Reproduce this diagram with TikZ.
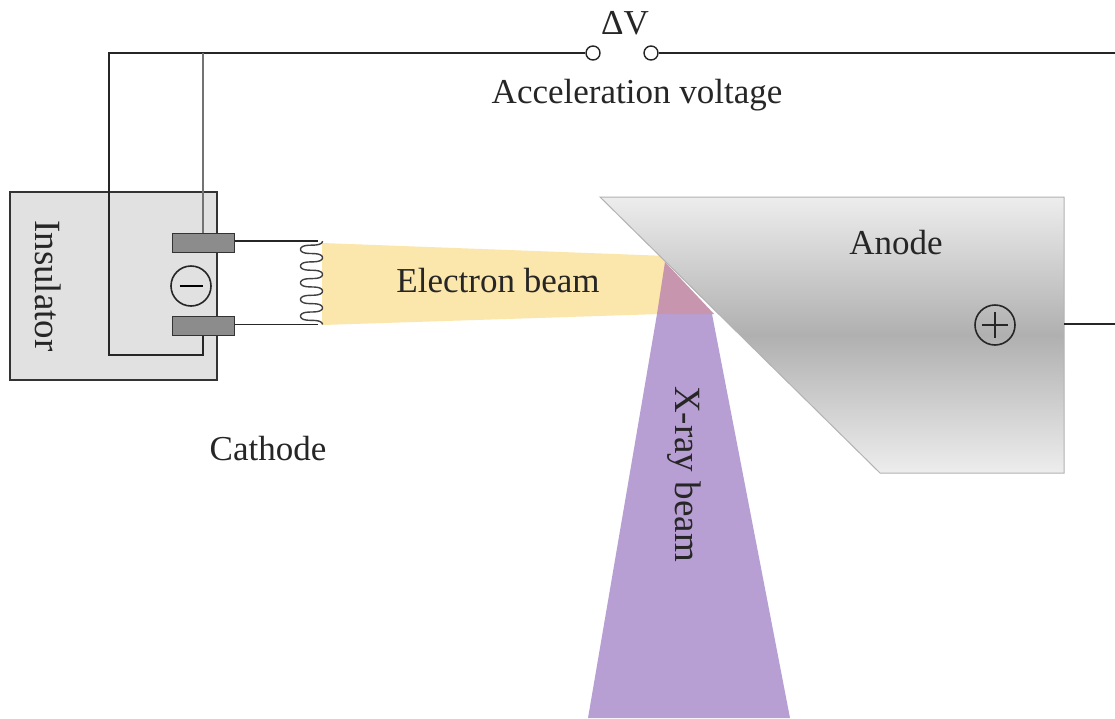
\documentclass[tikz,border=0pt]{standalone}
\usepackage{fontspec}
\setmainfont{Liberation Serif}
\usepackage{xcolor}
\definecolor{beamyellow}{HTML}{FBE6AC}
\definecolor{beampurple}{HTML}{B89FD3}
\definecolor{beamoverlap}{HTML}{C796AE}
\definecolor{insulgray}{HTML}{E1E1E1}
\definecolor{plategray}{HTML}{8C8C8C}

\begin{document}
\begin{tikzpicture}[
x=1pt,y=-1pt,
wire/.style={draw=black!85,line width=1.3pt},
label/.style={font=\fontsize{35}{40}\selectfont,text=black!85,inner sep=0pt},
sidelabel/.style={font=\fontsize{37}{40}\selectfont,text=black!85,inner sep=0pt,rotate=-90},
terminal/.style={circle,draw=black!85,line width=1.4pt,fill=white,minimum size=14pt,inner sep=0pt},
plate/.style={draw=black!80,line width=1pt,fill=plategray,minimum width=62pt,minimum height=19pt,inner sep=0pt},
sign/.style={circle,draw=black!85,line width=1.6pt,minimum size=40pt,inner sep=0pt}
]
\useasboundingbox (0,0) rectangle (1115,718);
\fill[white] (0,0) rectangle (1115,718);
% beams
\fill[beamyellow] (322,243) -- (668,256) -- (660,314) -- (322,325) -- cycle;
\fill[beampurple] (657,314) -- (712,314) -- (790,718) -- (588,718) -- cycle;
\fill[beamoverlap] (665,262) -- (714,314) -- (657,314) -- cycle;
% anode
\draw[draw=black!30,line width=1pt,top color=black!7,bottom color=black!7,middle color=black!31]
  (600,197) -- (1064,197) -- (1064,473) -- (880,473) -- cycle;
% cathode
\draw[fill=insulgray,draw=black!80,line width=1.2pt] (10,192) rectangle (217,380);
\node[plate] (plateup) at (203,242.5) {};
\node[plate] (platedown) at (203,325.5) {};
\node[sign] (minus) at (191,286) {\rule{23pt}{2pt}};
\node[sign] (plus) at (995,325) {};
\draw[line width=1.6pt,black!85] (plus.center) +(-13,0) -- +(13,0) (plus.center) +(0,-13) -- +(0,13);
% circuit
\node[terminal] (termleft) at (593,53) {};
\node[terminal] (termright) at (651,53) {};
\coordinate (topleft) at (109,53);
\coordinate (bottomleft) at (109,355);
\coordinate (bottomright) at (203,355);
\coordinate (topwire) at (203,53);
\coordinate (topright) at (1115,53);
\coordinate (anodeend) at (1115,324);
\coordinate (coilup) at (318,241);
\coordinate (coildown) at (318,324.5);
\draw[wire] (termleft) -- (topleft) -- (bottomleft) -- (bottomright) -- (platedown.south);
\draw[wire] (termright) -- (topright);
\draw[draw=black!55,line width=1.2pt] (topwire) -- (plateup.north);
\draw[wire] (plateup.east) ++(0,-1.5) -- (coilup);
\draw[wire] (platedown.east) ++(0,-1) -- (coildown);
\draw[wire] (1064,324) -- (anodeend);
% heater
\draw[draw=black!75,line width=1.4pt]
  plot[smooth,samples=200,domain=0:1800,variable=\t] ({311.5+11*cos(\t)},{241+0.0464*\t+1.2*sin(2*\t)});
% labels
\node[label] (deltav) at (625,23) {ΔV};
\node[label] (accel) at (637,95) {Acceleration voltage};
\node[sidelabel] (insul) at (48,286) {Insulator};
\node[label] (cathode) at (268,449) {Cathode};
\node[label] (ebeam) at (498,281) {Electron beam};
\node[label] (anode) at (896,243) {Anode};
\node[sidelabel] (xbeam) at (684,474) {X-ray beam};
\end{tikzpicture}
\end{document}
